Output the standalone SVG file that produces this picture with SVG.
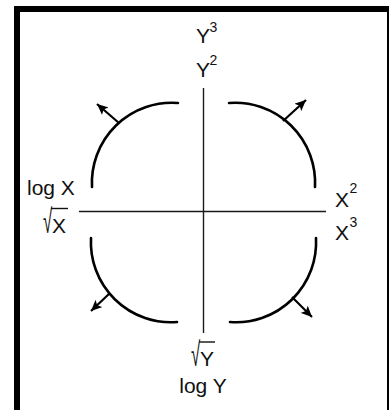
<svg xmlns="http://www.w3.org/2000/svg" width="389" height="410" viewBox="0 0 389 410">
  <defs>
    <style>
      .axis { stroke: #1a1a1a; stroke-width: 1.4; fill: none; }
      .arc { stroke: #000; stroke-width: 2.6; fill: none; stroke-linecap: round; }
      .arr { stroke: #000; stroke-width: 2.2; fill: none; marker-end: url(#head); }
      .lbl { font-family: "Liberation Sans", Arial, sans-serif; font-size: 21px; fill: #111; }
      .sup { font-family: "Liberation Sans", Arial, sans-serif; font-size: 14px; fill: #111; }
      .vin { stroke: #111; stroke-width: 1.4; }
    </style>
    <marker id="head" markerUnits="userSpaceOnUse" markerWidth="12" markerHeight="10" refX="11" refY="5" orient="auto">
      <path d="M0,0 L11,5 L0,10 L2.5,5 z" fill="#000"/>
    </marker>
  </defs>
  <rect x="17" y="9" width="373" height="420" fill="#fff" stroke="#000" stroke-width="6"/>
  <g id="axes">
    <line class="axis" x1="203.5" y1="88" x2="203.5" y2="333"/>
    <line class="axis" x1="79" y1="211.5" x2="326" y2="211.5"/>
  </g>
  <g id="connectors">
    <path class="arc" d="M178,103 A80,80 0 0 0 92,187"/>
    <path class="arc" d="M229,103 A80,80 0 0 1 315,187"/>
    <path class="arc" d="M91,238 A80,80 0 0 0 177,322"/>
    <path class="arc" d="M316,238 A80,80 0 0 1 230,322"/>
    <line class="arr" x1="119" y1="123" x2="97" y2="104"/>
    <line class="arr" x1="283" y1="121" x2="306" y2="100"/>
    <line class="arr" x1="110" y1="293" x2="91" y2="311"/>
    <line class="arr" x1="292" y1="297" x2="312" y2="317"/>
  </g>
  <g id="label-y3">
    <text class="lbl" x="203" y="43" text-anchor="middle">Y</text>
    <text class="sup" x="209.5" y="32">3</text>
  </g>
  <g id="label-y2">
    <text class="lbl" x="203" y="77" text-anchor="middle">Y</text>
    <text class="sup" x="209.5" y="65">2</text>
  </g>
  <g id="label-logx">
    <text class="lbl" x="27" y="195">log X</text>
  </g>
  <g id="label-sqrtx">
    <text class="lbl" transform="translate(43,233) scale(0.8,1.6)" x="0" y="0">√</text>
    <text class="lbl" x="52" y="233">X</text>
    <line class="vin" x1="51" y1="208.5" x2="68" y2="208.5"/>
  </g>
  <g id="label-x2">
    <text class="lbl" x="335" y="207">X</text>
    <text class="sup" x="349.5" y="193">2</text>
  </g>
  <g id="label-x3">
    <text class="lbl" x="335" y="240">X</text>
    <text class="sup" x="349.5" y="227">3</text>
  </g>
  <g id="label-sqrty">
    <text class="lbl" transform="translate(191,366) scale(0.8,1.6)" x="0" y="0">√</text>
    <text class="lbl" x="200" y="366">Y</text>
    <line class="vin" x1="199" y1="342" x2="215" y2="342"/>
  </g>
  <g id="label-logy">
    <text class="lbl" x="203" y="393" text-anchor="middle">log Y</text>
  </g>
</svg>
